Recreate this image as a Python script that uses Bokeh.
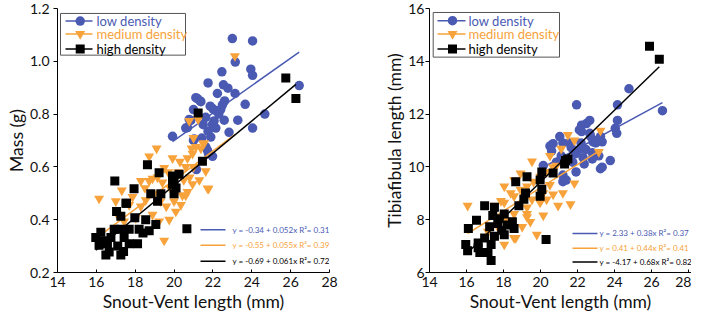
from bokeh.plotting import figure
from bokeh.models import ColumnDataSource, Range1d, FixedTicker
from bokeh.layouts import row
from bokeh.core.properties import value
from bokeh.embed import file_html
from bokeh.resources import INLINE

# ---------------- data ----------------
groups = ["low density", "medium density", "high density"]
colors = ["#4a5ab3", "#f7a23a", "#000000"]
markers = ["circle", "inverted_triangle", "square"]
marker_sizes = [9.5, 10, 9]

x_ticks = [14, 16, 18, 20, 22, 24, 26, 28]
mass_ticks = [0.2, 0.4, 0.6, 0.8, 1.0, 1.2]
mass_tick_labels = ["0.2", "0.4", "0.6", "0.8", "1.0", "1.2"]
tib_ticks = [6, 8, 10, 12, 14, 16]
tib_tick_labels = ["6", "8", "10", "12", "14", "16"]

# Mass vs SVL
mass_low_x = [23.0, 24.04, 23.15, 23.95, 24.04, 22.46, 21.75, 22.54, 22.77, 22.23, 23.14, 26.44,
              21.12, 21.34, 22.6, 23.66, 21.86, 22.49, 21.0, 22.15, 22.4, 24.67, 21.63, 22.58,
              23.28, 21.98, 20.6, 22.15, 24.04, 21.75, 22.83, 19.92, 20.69, 20.86, 21.2, 21.38,
              21.0, 21.43, 21.63, 21.77, 21.89, 20.78, 21.03, 21.72, 22.06, 21.15, 21.98, 22.3,
              21.5, 22.0]
mass_low_y = [1.086, 1.077, 0.997, 0.97, 0.947, 0.96, 0.918, 0.911, 0.898, 0.878, 0.878, 0.908,
              0.862, 0.85, 0.85, 0.837, 0.83, 0.835, 0.817, 0.813, 0.817, 0.80, 0.788, 0.777,
              0.777, 0.761, 0.747, 0.747, 0.747, 0.735, 0.731, 0.716, 0.749, 0.776, 0.859, 0.847,
              0.70, 0.709, 0.676, 0.651, 0.713, 0.78, 0.706, 0.663, 0.774, 0.59, 0.64, 0.80,
              0.76, 0.82]
mass_med_x = [23.13, 20.78, 21.24, 21.0, 21.5, 20.9, 21.38, 19.1, 18.72, 19.92, 20.69, 16.14,
              19.49, 21.77, 21.63, 21.12, 21.55, 20.6, 19.49, 21.72, 20.95, 20.69, 20.43, 19.15,
              19.4, 18.72, 17.31, 18.29, 17.86, 18.89, 17.69, 18.29, 18.89, 19.23, 19.75, 20.6,
              20.35, 20.09, 18.03, 17.43, 17.09, 18.54, 20.2, 20.5, 19.8, 20.0, 19.6, 21.0,
              20.8, 21.3, 19.0, 20.3, 19.7, 20.95, 18.5, 19.3, 17.0]
mass_med_y = [1.02, 0.774, 0.78, 0.71, 0.688, 0.67, 0.67, 0.67, 0.64, 0.633, 0.633, 0.48,
              0.321, 0.517, 0.584, 0.676, 0.69, 0.6, 0.596, 0.519, 0.535, 0.505, 0.492, 0.56,
              0.541, 0.547, 0.511, 0.547, 0.486, 0.556, 0.456, 0.45, 0.419, 0.394, 0.40, 0.492,
              0.456, 0.431, 0.407, 0.394, 0.419, 0.474, 0.58, 0.55, 0.52, 0.47, 0.45, 0.60,
              0.56, 0.55, 0.50, 0.62, 0.58, 0.65, 0.52, 0.47, 0.47]
mass_high_x = [21.24, 25.75, 26.27, 21.46, 20.66, 18.63, 19.23, 19.92, 20.26, 20.0, 19.92, 19.32,
               18.8, 17.94, 16.95, 17.52, 17.04, 17.26, 17.98, 18.54, 19.06, 18.72, 18.2, 17.69,
               17.26, 16.92, 17.43, 17.69, 18.12, 17.26, 16.66, 16.49, 16.14, 15.97, 16.23, 16.57,
               16.75, 19.15, 17.55, 20.1, 20.0, 17.1, 17.4, 16.35, 18.4]
mass_high_y = [0.804, 0.937, 0.859, 0.621, 0.366, 0.608, 0.578, 0.566, 0.572, 0.498, 0.535, 0.498,
               0.498, 0.517, 0.547, 0.462, 0.431, 0.413, 0.407, 0.40, 0.382, 0.358, 0.364, 0.364,
               0.364, 0.364, 0.333, 0.309, 0.309, 0.266, 0.278, 0.266, 0.303, 0.333, 0.352, 0.309,
               0.333, 0.47, 0.462, 0.52, 0.55, 0.30, 0.28, 0.32, 0.35]
mass_fit_a = [-0.34, -0.55, -0.69]
mass_fit_b = [0.052, 0.055, 0.061]
mass_fit_r2 = [0.31, 0.39, 0.72]

# Tibiafibula length vs SVL
tib_low_x = [24.78, 21.95, 24.16, 26.59, 24.16, 22.66, 22.48, 22.22, 22.22, 24.04, 24.12, 22.66,
             23.24, 21.04, 23.06, 23.33, 22.84, 20.68, 21.21, 22.19, 21.66, 22.45, 23.77, 23.24,
             22.36, 21.92, 21.21, 21.74, 21.04, 22.8, 20.51, 21.57, 22.1, 22.1, 22.8, 23.15,
             23.33, 22.71, 22.98, 21.12, 20.86, 21.21, 21.39, 20.15, 20.6, 21.9, 21.5, 22.3]
tib_low_y = [12.96, 12.35, 12.35, 12.13, 11.76, 11.76, 11.64, 11.58, 11.34, 11.46, 11.27, 11.27,
             11.15, 11.15, 11.0, 10.95, 10.95, 10.88, 10.91, 10.91, 10.73, 10.66, 10.24, 9.93,
             10.11, 9.81, 9.44, 10.18, 10.24, 10.3, 10.79, 10.91, 11.4, 10.66, 10.54, 10.42,
             9.99, 11.15, 10.91, 10.42, 10.18, 9.69, 9.5, 10.05, 10.6, 10.5, 10.3, 10.35]
tib_med_x = [16.06, 19.54, 17.51, 18.04, 18.57, 18.92, 19.27, 19.62, 19.98, 20.33, 20.68, 20.95,
             21.62, 19.8, 18.57, 18.04, 19.01, 19.45, 19.27, 20.15, 20.33, 20.68, 19.98, 18.57,
             18.13, 17.69, 17.16, 18.92, 18.57, 18.04, 18.39, 17.86, 19.27, 19.27, 21.83, 21.48,
             18.66, 20.51, 20.86, 20.07, 20.51, 20.15, 19.54, 21.21, 21.83, 23.24, 21.12, 23.15]
tib_med_y = [8.53, 10.21, 8.53, 8.65, 8.89, 9.14, 9.26, 9.44, 9.63, 9.81, 9.99, 8.53,
             8.59, 7.43, 7.31, 7.06, 7.73, 7.92, 8.22, 8.16, 8.77, 8.96, 8.65, 8.22,
             7.98, 7.73, 7.55, 9.75, 9.5, 9.26, 9.01, 8.71, 8.47, 8.1, 9.38, 11.21,
             7.31, 10.42, 10.05, 9.63, 9.32, 9.01, 8.77, 9.01, 11.0, 11.37, 10.69, 10.57]
tib_high_x = [25.89, 26.42, 21.35, 20.68, 20.07, 19.98, 20.07, 19.98, 19.27, 19.19, 19.1, 18.83,
              18.66, 20.3, 17.51, 16.98, 18.04, 18.48, 18.57, 18.04, 17.51, 16.98, 17.25, 17.69,
              17.77, 16.54, 16.1, 15.96, 16.06, 16.63, 16.72, 17.33, 17.16, 17.33, 16.63, 17.42,
              21.3, 21.48, 18.2, 17.9]
tib_high_y = [14.57, 14.08, 10.24, 9.77, 9.81, 9.5, 9.14, 8.89, 9.63, 9.01, 8.77, 8.53,
              9.44, 7.25, 8.47, 8.53, 8.22, 7.92, 7.67, 7.43, 7.37, 7.31, 7.73, 7.86,
              8.04, 7.98, 7.67, 7.06, 6.82, 6.94, 6.76, 6.45, 6.76, 7.06, 7.12, 8.16,
              10.11, 10.3, 7.8, 7.6]
tib_fit_a = [2.33, 0.41, -4.17]
tib_fit_b = [0.38, 0.44, 0.68]
tib_fit_r2 = [0.37, 0.41, 0.82]

FONT = "Lato"
FIG_H = 314


def make_panel(xs, ys, fit_a, fit_b, fit_r2, yticks, ylabels, ylabel, x_end, y_start, y_end,
               width, frame_left, frame_w, mb_left, mb_right, mb_top, mb_bottom,
               leg, eq, ylab_standoff, ytick_standoff):
    p = figure(width=width, height=FIG_H, output_backend="svg", toolbar_location=None,
               x_range=Range1d(14, x_end), y_range=Range1d(y_start, y_end),
               min_border_left=mb_left, min_border_right=mb_right,
               min_border_top=mb_top, min_border_bottom=mb_bottom)
    p.outline_line_color = None
    p.grid.visible = False
    p.background_fill_color = "white"
    p.border_fill_color = "white"

    frame_top = 8 + mb_top
    frame_h = FIG_H - mb_top - mb_bottom

    # page-pixel -> data helpers (layout only)
    def dx(px):
        return 14 + (px - frame_left) / frame_w * (x_end - 14)

    def dy(py):
        return y_end - (py - frame_top) / frame_h * (y_end - y_start)

    for i in range(3):
        src = ColumnDataSource(dict(x=xs[i], y=ys[i]))
        p.scatter("x", "y", source=src, marker=markers[i], size=marker_sizes[i],
                  fill_color=colors[i], line_color=None)
        x0, x1 = min(xs[i]), max(xs[i])
        p.line([x0, x1], [fit_a[i] + fit_b[i] * x0, fit_a[i] + fit_b[i] * x1],
               line_color=colors[i], line_width=1.5)

    # legend box (top-left)
    bl, br, bt, bb, rows, l0, l1, mx, tx = leg
    p.quad(left=[dx(bl)], right=[dx(br)], top=[dy(bt)], bottom=[dy(bb)],
           fill_color="white", line_color="#555555", line_width=1)
    for i in range(3):
        yy = dy(rows[i])
        p.line([dx(l0), dx(l1)], [yy, yy], line_color=colors[i], line_width=1.5)
        p.scatter([dx(mx)], [yy], marker=markers[i], size=marker_sizes[i],
                  fill_color=colors[i], line_color=None)
    p.text(x=[dx(tx)] * 3, y=[dy(r) for r in rows], text=groups,
           text_color=colors, text_font=value(FONT), text_font_size="13px",
           text_baseline="middle", text_align="left")

    # equations (bottom-right)
    erows, e0, e1, etx = eq
    eq_text = []
    for i in range(3):
        eq_text.append("y = %s + %sx  R\u00b2= %.2f" % (("% .2f" % fit_a[i]), ("%g" % fit_b[i]), fit_r2[i]))
    for i in range(3):
        yy = dy(erows[i])
        p.line([dx(e0), dx(e1)], [yy, yy], line_color=colors[i], line_width=1.5)
    p.text(x=[dx(etx)] * 3, y=[dy(r) for r in erows], text=eq_text,
           text_color=colors, text_font=value(FONT), text_font_size="8px",
           text_baseline="middle", text_align="left")

    # axes
    p.xaxis.ticker = FixedTicker(ticks=x_ticks)
    p.yaxis.ticker = FixedTicker(ticks=yticks)
    p.yaxis.major_label_overrides = {t: l for t, l in zip(yticks, ylabels)}
    p.xaxis.axis_label = "Snout-Vent length (mm)"
    p.yaxis.axis_label = ylabel
    for ax in (p.xaxis[0], p.yaxis[0]):
        ax.axis_line_color = "black"
        ax.major_tick_line_color = "black"
        ax.minor_tick_line_color = None
        ax.major_label_text_font = FONT
        ax.major_label_text_font_size = "14px"
        ax.major_label_text_color = "#111111"
        ax.axis_label_text_font = FONT
        ax.axis_label_text_font_size = "17.5px"
        ax.axis_label_text_font_style = "normal"
        ax.axis_label_text_color = "#111111"
    p.xaxis.major_tick_in = 3
    p.xaxis.major_tick_out = 0
    p.xaxis.major_label_standoff = 4
    p.xaxis.axis_label_standoff = 1
    p.yaxis.major_tick_in = 0
    p.yaxis.major_tick_out = 4
    p.yaxis.major_label_standoff = ytick_standoff
    p.yaxis.axis_label_standoff = ylab_standoff
    return p


p1 = make_panel([mass_low_x, mass_med_x, mass_high_x], [mass_low_y, mass_med_y, mass_high_y],
                mass_fit_a, mass_fit_b, mass_fit_r2, mass_ticks, mass_tick_labels, "Mass (g)",
                28, 0.2, 1.2, 342, 65, 272, 57, 13, 8, 40,
                (68, 193, 21, 63, [28.7, 41.7, 56.7], 73, 100, 87.7, 104),
                ([239, 254.5, 270.7], 208, 233, 240), 0, 4)
p2 = make_panel([tib_low_x, tib_med_x, tib_high_x], [tib_low_y, tib_med_y, tib_high_y],
                tib_fit_a, tib_fit_b, tib_fit_r2, tib_ticks, tib_tick_labels, "Tibiafibula length (mm)",
                28.16, 6, 16, 349, 437, 262, 87, 0, 8, 40,
                (440.7, 567, 20, 65, [28.3, 41.7, 56.7], 445, 473, 460, 476),
                ([242.7, 257.5, 271.3], 580, 605, 607), 0, 1)

layout = row(p1, p2)
open("out.html", "w").write(file_html(layout, INLINE))
